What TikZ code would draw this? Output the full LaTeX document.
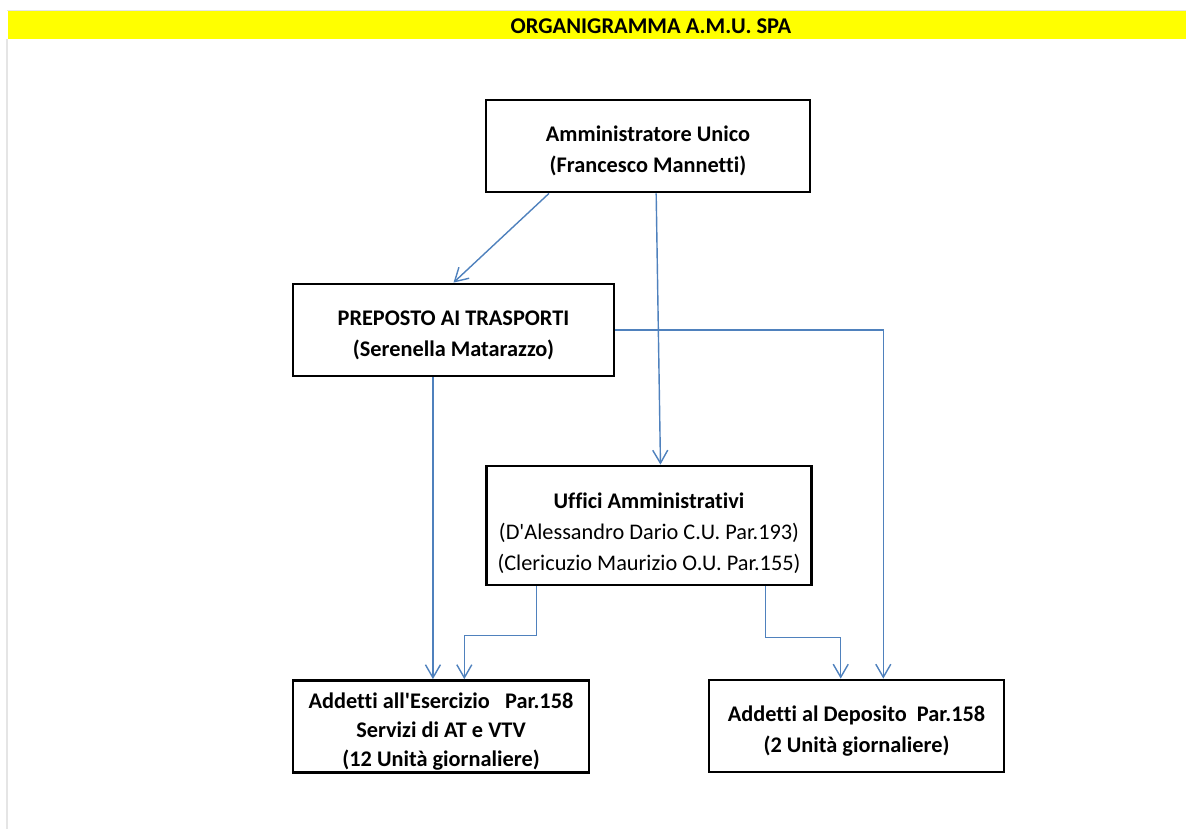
\documentclass[tikz,border=0pt]{standalone}
\usepackage{fontspec}
\setmainfont{Carlito}[Ligatures={TeXOff,CommonOff}]
\usepackage{tikz}
\usetikzlibrary{calc, arrows.meta}

\definecolor{linkblue}{RGB}{79,129,189}
\definecolor{baryellow}{RGB}{255,255,0}

\begin{document}
\begin{tikzpicture}[x=0.02cm, y=-0.02cm,
    box/.style={draw, line width=1.6pt, align=center, inner sep=0pt, text depth=0pt, font=\bfseries\fontsize{12.7}{17.7}\selectfont},
    link/.style={draw=linkblue, line width=0.8pt, -{Straight Barb[length=2.6mm, width=3mm]}}]
            \useasboundingbox (0,0) rectangle (1186,829);
            \fill[black!10] (7,10) rectangle (1186,11);
            \fill[black!10] (6,39) rectangle (7.5,829);
            \node[fill=baryellow, minimum width=23.56cm, minimum height=0.56cm, inner sep=0pt] (bar) at (597,25) {};
            \node[font=\bfseries\fontsize{12.8}{14}\selectfont, inner sep=0pt] (title) at (651,26) {ORGANIGRAMMA A.M.U. SPA};

            \node[box, minimum width=6.48cm, minimum height=1.84cm] (amm) at (648,146) {\rule{0pt}{13pt}Amministratore Unico\\(Francesco Mannetti)};
            \node[box, minimum width=6.42cm, minimum height=1.84cm] (prep) at (453.5,330) {\rule{0pt}{13pt}PREPOSTO AI TRASPORTI\\(Serenella Matarazzo)};
            \node[box, minimum width=6.5cm, minimum height=2.38cm] (uff) at (649,525.5) {\rule{0pt}{16pt}Uffici Amministrativi\\\mdseries (D'Alessandro Dario C.U. Par.193)\\\mdseries (Clericuzio Maurizio O.U. Par.155)};
            \node[box, minimum width=5.92cm, minimum height=1.84cm, font=\bfseries\fontsize{12.7}{16.5}\selectfont] (eser) at (441,726.5) {\rule{0pt}{12.2pt}Addetti all'Esercizio\ \ \ Par.158\\Servizi di AT e VTV\\(12 Unità giornaliere)};
            \node[box, minimum width=5.9cm, minimum height=1.84cm] (depo) at (856.5,726) {\rule{0pt}{13pt}Addetti al Deposito\ \ Par.158\\(2 Unità giornaliere)};

            \coordinate (a1) at ($(amm.south west)!0.197!(amm.south east)$);
            \coordinate (a2) at ($(amm.south west)!0.525!(amm.south east)$);
            \coordinate (u0) at ($(uff.north west)!0.535!(uff.north east)$);
            \coordinate (u1) at ($(uff.south west)!0.157!(uff.south east)$);
            \coordinate (u2) at ($(uff.south west)!0.855!(uff.south east)$);
            \coordinate (e1) at ($(eser.north west)!0.473!(eser.north east)$);
            \coordinate (e2) at ($(eser.north west)!0.578!(eser.north east)$);
            \coordinate (d1) at ($(depo.north west)!0.447!(depo.north east)$);
            \coordinate (d2) at ($(depo.north west)!0.59!(depo.north east)$);

            \draw[link] (a1) -- (prep.north);
            \draw[link] (a2) -- (u0);
            \draw[link] (prep.east) -| (d2);
            \draw[link] (prep.south -| e1) -- (e1);
            \draw[link] (u1) -- ++(0,49) -| (e2);
            \draw[link] (u2) -- ++(0,51) -| (d1);
        \end{tikzpicture}
\end{document}
